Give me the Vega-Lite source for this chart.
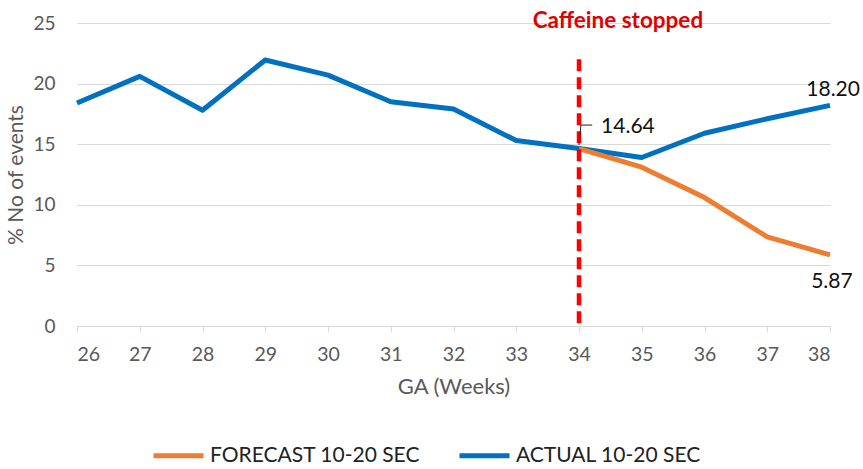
{
  "$schema": "https://vega.github.io/schema/vega-lite/v6.json",
  "width": 753,
  "height": 303,
  "autosize": {"type": "none"},
  "padding": {"left": 77, "top": 23, "right": 33, "bottom": 143},
  "background": "white",
  "config": {"view": {"stroke": null}, "font": "Lato"},
  "datasets": {
    "series": [
      {"week": 26, "pct": 18.4, "series": "ACTUAL 10-20 SEC"},
      {"week": 27, "pct": 20.6, "series": "ACTUAL 10-20 SEC"},
      {"week": 28, "pct": 17.8, "series": "ACTUAL 10-20 SEC"},
      {"week": 29, "pct": 21.95, "series": "ACTUAL 10-20 SEC"},
      {"week": 30, "pct": 20.7, "series": "ACTUAL 10-20 SEC"},
      {"week": 31, "pct": 18.5, "series": "ACTUAL 10-20 SEC"},
      {"week": 32, "pct": 17.9, "series": "ACTUAL 10-20 SEC"},
      {"week": 33, "pct": 15.3, "series": "ACTUAL 10-20 SEC"},
      {"week": 34, "pct": 14.64, "series": "ACTUAL 10-20 SEC"},
      {"week": 35, "pct": 13.9, "series": "ACTUAL 10-20 SEC"},
      {"week": 36, "pct": 15.9, "series": "ACTUAL 10-20 SEC"},
      {"week": 37, "pct": 17.1, "series": "ACTUAL 10-20 SEC"},
      {"week": 38, "pct": 18.2, "series": "ACTUAL 10-20 SEC"},
      {"week": 34, "pct": 14.64, "series": "FORECAST 10-20 SEC"},
      {"week": 35, "pct": 13.1, "series": "FORECAST 10-20 SEC"},
      {"week": 36, "pct": 10.6, "series": "FORECAST 10-20 SEC"},
      {"week": 37, "pct": 7.35, "series": "FORECAST 10-20 SEC"},
      {"week": 38, "pct": 5.87, "series": "FORECAST 10-20 SEC"}
    ],
    "stop": [{"week": 34, "pct": 22.0, "pct2": 0}],
    "leader": [
      {"week": 34.03, "pct": 16.58, "week2": 34.21, "pct2": 16.58},
      {"week": 34.03, "pct": 16.58, "week2": 34.0, "pct2": 14.93}
    ],
    "labels": [
      {"week": 34.78, "pct": 16.4, "label": "14.64"},
      {"week": 38.05, "pct": 19.5, "label": "18.20"},
      {"week": 38.03, "pct": 3.6, "label": "5.87"}
    ],
    "note": [{"week": 34.62, "pct": 25.15, "label": "Caffeine stopped"}]
  },
  "encoding": {
    "x": {
      "field": "week",
      "type": "quantitative",
      "scale": {"domain": [26, 38], "nice": false, "zero": false},
      "axis": {
        "title": "GA (Weeks)",
        "values": [26, 27, 28, 29, 30, 31, 32, 33, 34, 35, 36, 37, 38],
        "format": "d",
        "grid": false,
        "domainColor": "#D9D9D9",
        "tickColor": "#D9D9D9",
        "tickSize": 6,
        "labelFontSize": 19.5,
        "labelColor": "#595959",
        "labelPadding": 13,
        "titleFontSize": 22,
        "titleFontWeight": "normal",
        "titleColor": "#595959",
        "titlePadding": 13
      }
    },
    "y": {
      "field": "pct",
      "type": "quantitative",
      "scale": {"domain": [0, 25], "nice": false},
      "axis": {
        "title": "% No of events",
        "values": [0, 5, 10, 15, 20, 25],
        "grid": true,
        "gridColor": "#D9D9D9",
        "domain": false,
        "ticks": false,
        "tickSize": 0,
        "labelFontSize": 19,
        "labelColor": "#595959",
        "labelPadding": 22,
        "titleFontSize": 21,
        "titleFontWeight": "normal",
        "titleColor": "#595959",
        "titlePadding": 6
      }
    }
  },
  "layer": [
    {
      "data": {"name": "series"},
      "mark": {"type": "line", "strokeWidth": 5, "strokeJoin": "round"},
      "encoding": {
        "color": {
          "field": "series",
          "type": "nominal",
          "scale": {
            "domain": ["FORECAST 10-20 SEC", "ACTUAL 10-20 SEC"],
            "range": ["#ED7D31", "#0070C0"]
          },
          "legend": {
            "orient": "none",
            "legendX": 74,
            "legendY": 405,
            "direction": "horizontal",
            "title": null,
            "symbolType": "stroke",
            "symbolSize": 2500,
            "symbolStrokeWidth": 5,
            "labelFontSize": 21,
            "labelColor": "#222222",
            "labelLimit": 400,
            "labelOffset": 4,
            "columnPadding": 28
          }
        }
      }
    },
    {
      "data": {"name": "stop"},
      "mark": {"type": "rule", "color": "#FF0000", "strokeWidth": 4.5, "strokeDash": [12, 6]},
      "encoding": {"y2": {"field": "pct2"}}
    },
    {
      "data": {"name": "leader"},
      "mark": {"type": "rule", "color": "#222222", "strokeWidth": 1},
      "encoding": {"x2": {"field": "week2"}, "y2": {"field": "pct2"}}
    },
    {
      "data": {"name": "labels"},
      "mark": {"type": "text", "fontSize": 21, "color": "#111111", "align": "center", "baseline": "middle"},
      "encoding": {"text": {"field": "label"}}
    },
    {
      "data": {"name": "note"},
      "mark": {"type": "text", "fontSize": 22.5, "fontWeight": "bold", "color": "#E00000", "align": "center", "baseline": "middle", "clip": false},
      "encoding": {"text": {"field": "label"}}
    }
  ]
}
